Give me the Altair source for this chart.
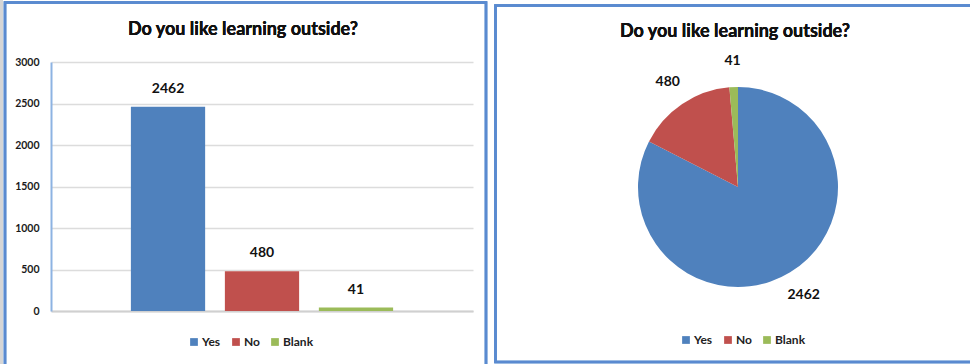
import altair as alt
import pandas as pd

categories = ["Yes", "No", "Blank"]
values = [2462, 480, 41]
colors = ["#4f81bd", "#c0504d", "#9bbb59"]
title_text = "Do you like learning outside?"
y_ticks = [0, 500, 1000, 1500, 2000, 2500, 3000]

df = pd.DataFrame({"category": categories, "value": values, "idx": list(range(len(categories)))})

FONT = "Lato"
BORDER = "#5a8ad0"

# decoration: gray strip and panel frames
strip = alt.Chart(df).mark_rect(color="#d6d6d6").encode(
    x=alt.value(0), x2=alt.value(3), y=alt.value(0), y2=alt.value(364))
frame_left = alt.Chart(df).mark_rect(filled=False, stroke=BORDER, strokeWidth=2.5).encode(
    x=alt.value(5), x2=alt.value(486), y=alt.value(2.5), y2=alt.value(380))
frame_right = alt.Chart(df).mark_rect(filled=False, stroke=BORDER, strokeWidth=2.5).encode(
    x=alt.value(495.5), x2=alt.value(1000), y=alt.value(5.5), y2=alt.value(362))

title_left = alt.Chart(df).mark_text(font=FONT, fontSize=18, fontWeight="bold", color="#111").encode(
    x=alt.value(243), y=alt.value(30), text=alt.value(title_text))
title_right = alt.Chart(df).mark_text(font=FONT, fontSize=18, fontWeight="bold", color="#111").encode(
    x=alt.value(735), y=alt.value(32), text=alt.value(title_text))

color_scale = alt.Scale(domain=categories, range=colors)

def legend(x, y):
    return alt.Legend(orient="none", legendX=x, legendY=y, direction="horizontal", title=None,
                      symbolType="square", symbolSize=60, symbolStrokeWidth=0,
                      labelFont=FONT, labelFontSize=12, labelFontWeight="bold", labelColor="#222",
                      labelOffset=2, columnPadding=9)

x_enc = alt.X("category:N", sort=categories,
              scale=alt.Scale(range=[51, 473], paddingInner=0.21, paddingOuter=0.85),
              axis=alt.Axis(title=None, labels=False, ticks=False, grid=False,
                            domainColor="#d0d0d0", domainWidth=2, offset=-53))
y_enc = alt.Y("value:Q", scale=alt.Scale(domain=[0, 3000], range=[311, 62]),
              axis=alt.Axis(title=None, values=y_ticks, ticks=False, offset=-51, format="d",
                            labelFont=FONT, labelFontSize=10.5, labelFontWeight="bold",
                            labelColor="#1a1a1a", labelPadding=12,
                            domainColor="#8db3e2", domainWidth=2,
                            gridColor="#dcdcdc", gridWidth=1.5))

bars = alt.Chart(df).mark_bar().encode(
    x=x_enc, y=y_enc,
    color=alt.Color("category:N", scale=color_scale, sort=categories, legend=legend(188, 336)))
bar_text = alt.Chart(df).mark_text(font=FONT, fontSize=14, fontWeight="bold", color="#111",
                                   baseline="bottom", dy=-11).encode(
    x=alt.X("category:N", sort=categories), y="value:Q", text="value:Q")
bar_layer = alt.layer(bars, bar_text)

arc = alt.Chart(df).mark_arc(outerRadius=100).encode(
    theta=alt.Theta("value:Q", stack=True),
    order=alt.Order("idx:Q"),
    color=alt.Color("category:N", scale=color_scale, sort=categories, legend=legend(680, 334)),
    x=alt.value(738), y=alt.value(187))
pie_text = alt.Chart(df).mark_text(radius=126, font=FONT, fontSize=14, fontWeight="bold",
                                   color="#111").encode(
    theta=alt.Theta("value:Q", stack=True),
    order=alt.Order("idx:Q"),
    text="value:Q",
    x=alt.value(738), y=alt.value(187))
pie_layer = alt.layer(arc, pie_text)

chart = alt.layer(strip, frame_left, frame_right, title_left, title_right, bar_layer, pie_layer).resolve_scale(
    color="independent"
).properties(
    width=970, height=364, padding=0,
    autosize=alt.AutoSizeParams(type="none"),
    background="white",
).configure_view(stroke=None)

chart.save("out.html", embed_options={"renderer": "svg", "actions": False})
